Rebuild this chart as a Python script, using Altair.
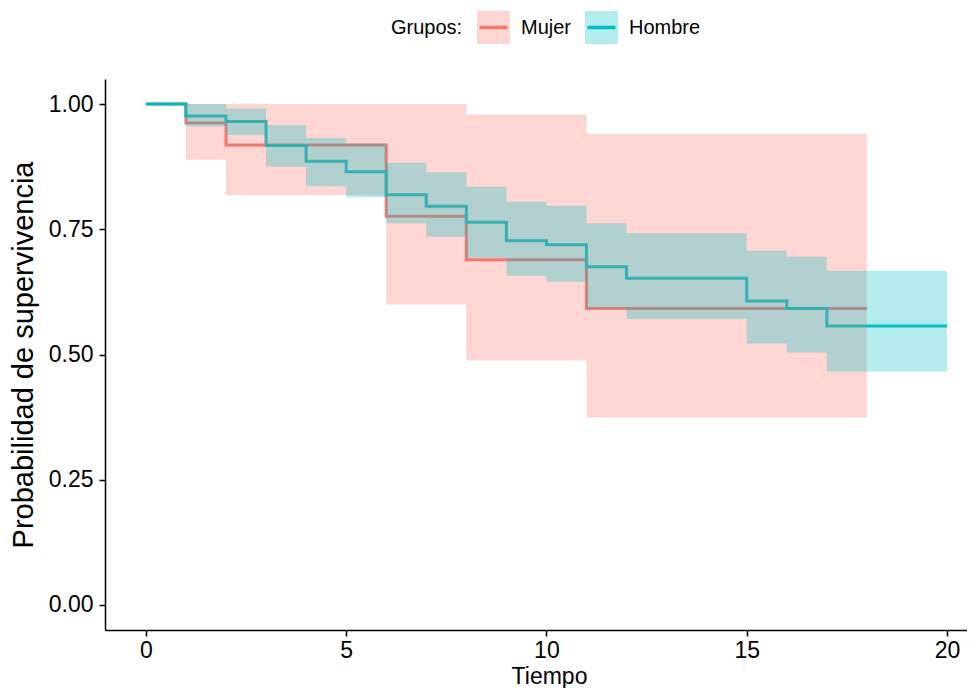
import altair as alt
import pandas as pd

# ---- data (Kaplan-Meier steps) ----
grupos = ["Mujer", "Hombre"]
colores = ["#F8766D", "#00BFC4"]
colores_banda = ["rgba(248,118,109,0.3)", "rgba(0,191,196,0.3)"]

h_time = [0, 1, 2, 3, 4, 5, 6, 7, 8, 9, 10, 11, 12, 15, 16, 17, 20]
h_surv = [1.0, 0.976, 0.965, 0.917, 0.886, 0.865, 0.819, 0.796, 0.764, 0.727, 0.719, 0.675, 0.652, 0.607, 0.592, 0.557, 0.557]
h_upper = [1.0, 1.0, 0.991, 0.958, 0.932, 0.921, 0.883, 0.864, 0.835, 0.805, 0.797, 0.762, 0.742, 0.707, 0.695, 0.667, 0.667]
h_lower = [1.0, 0.955, 0.938, 0.875, 0.836, 0.814, 0.762, 0.735, 0.693, 0.657, 0.645, 0.592, 0.571, 0.522, 0.504, 0.466, 0.466]

m_time = [0, 1, 2, 6, 8, 11, 18]
m_surv = [1.0, 0.962, 0.918, 0.776, 0.689, 0.592, 0.592]
m_upper = [1.0, 1.0, 1.0, 1.0, 0.979, 0.940, 0.940]
m_lower = [1.0, 0.889, 0.818, 0.600, 0.488, 0.374, 0.374]

x_ticks = [0, 5, 10, 15, 20]
y_ticks = [0.0, 0.25, 0.50, 0.75, 1.00]

lines = pd.concat([
    pd.DataFrame({"tiempo": m_time, "surv": m_surv, "grupo": "Mujer"}),
    pd.DataFrame({"tiempo": h_time, "surv": h_surv, "grupo": "Hombre"}),
], ignore_index=True)
bands = pd.concat([
    pd.DataFrame({"tiempo": m_time, "hi": m_upper, "lo": m_lower, "grupo": "Mujer"}),
    pd.DataFrame({"tiempo": h_time, "hi": h_upper, "lo": h_lower, "grupo": "Hombre"}),
], ignore_index=True)

FONT = "Liberation Sans"

x_enc = alt.X("tiempo:Q",
              scale=alt.Scale(domain=[-1.02, 20.5], nice=False, zero=False),
              axis=alt.Axis(values=x_ticks, title="Tiempo", titleFontSize=23,
                            labelFontSize=23, tickSize=6, labelPadding=3,
                            titlePadding=3, titleX=444, labelFlush=False,
                            grid=False))
y_scale = alt.Scale(domain=[-0.05, 1.05], nice=False, zero=False)
y_axis = alt.Axis(values=y_ticks, format=".2f", title="Probabilidad de supervivencia",
                  titleFontSize=29, labelFontSize=23, tickSize=6, labelPadding=6,
                  titlePadding=10, labelFlush=False, grid=False)

# one merged legend: translucent square (fill scale) with a line through it (stroke scale)
leyenda = alt.Legend(
    orient="none", legendX=370, legendY=-70, direction="horizontal",
    title=None, labelFontSize=20, labelFont=FONT, labelOffset=9, columnPadding=6,
    symbolType="M-0.85,0H1V-1H-1V1H1V0Z", symbolSize=1089, symbolStrokeWidth=3.5,
    symbolDash=[28, 2000], symbolDashOffset=0, labelColor="black",
)

stroke_enc = alt.Stroke("grupo:N", scale=alt.Scale(domain=grupos, range=colores), legend=leyenda)
fill_enc = alt.Fill("grupo:N", scale=alt.Scale(domain=grupos, range=colores_banda), legend=leyenda)

line_layers = [
    alt.Chart(lines).transform_filter(alt.datum.grupo == g)
    .mark_line(interpolate="step-after", strokeWidth=3)
    .encode(x=x_enc, y=alt.Y("surv:Q", scale=y_scale, axis=y_axis), stroke=stroke_enc)
    for g in grupos
]
band_layers = [
    alt.Chart(bands).transform_filter(alt.datum.grupo == g)
    .mark_area(interpolate="step-after")
    .encode(x=x_enc, y=alt.Y("hi:Q", scale=y_scale, axis=y_axis), y2="lo:Q", fill=fill_enc)
    for g in grupos
]

chart = alt.layer(*line_layers, *band_layers).properties(
    width=862, height=551,
    autosize=alt.AutoSizeParams(type="none"),
    padding={"left": 97, "top": 71, "right": 0, "bottom": 58},
    title=alt.TitleParams("Grupos:", anchor="start", frame="group", orient="top",
                          offset=0, dx=286, dy=39, baseline="middle", fontSize=20,
                          font=FONT, fontWeight="normal", color="black"),
).configure_view(stroke=None).configure_axis(
    domainColor="black", tickColor="black", labelColor="black", titleColor="black",
    domainWidth=1.5, tickWidth=1.5, labelFont=FONT, titleFont=FONT,
    titleFontWeight="normal",
)

chart.save("out.html", embed_options={"renderer": "svg", "actions": False})
